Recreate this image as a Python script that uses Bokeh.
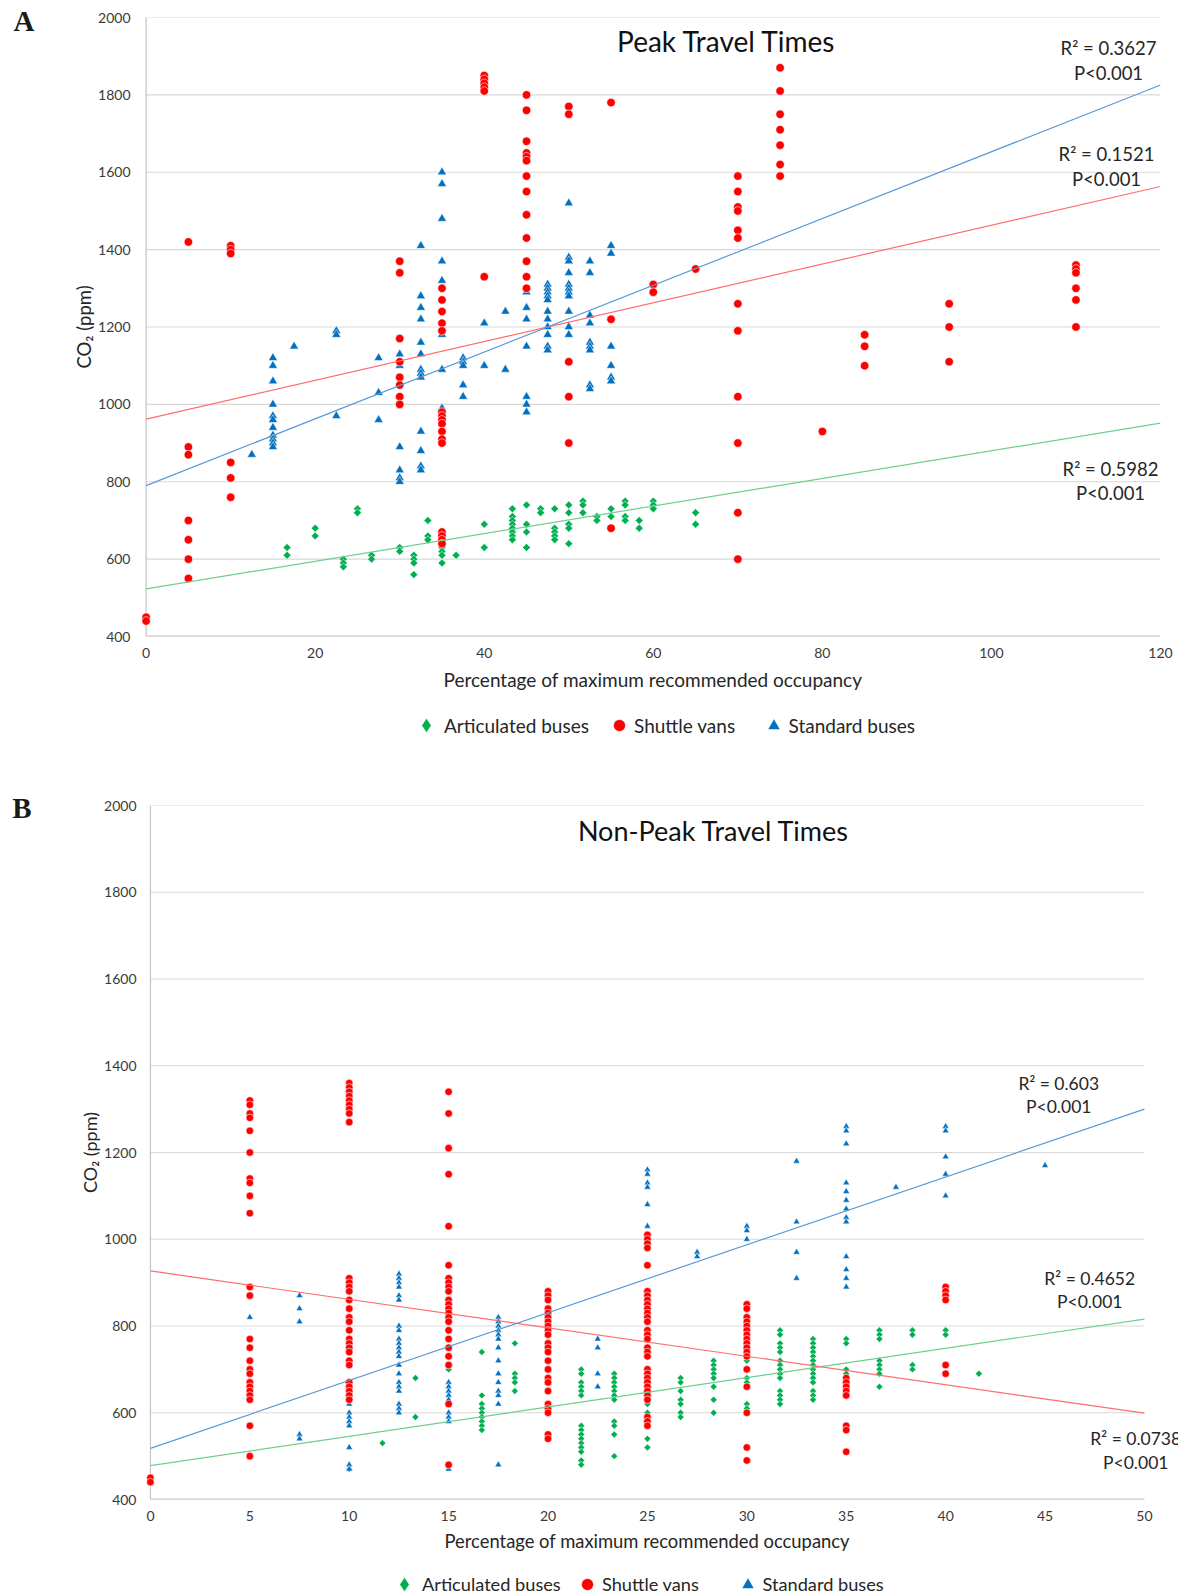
import numpy as np
from bokeh.plotting import figure
from bokeh.models import Range1d, Label, Legend, LegendItem, FixedTicker, Title, LinearAxis
from bokeh.layouts import column, row
from bokeh.embed import file_html
from bokeh.resources import INLINE

# ---------------- data ----------------
SERIES = ["Articulated buses", "Shuttle vans", "Standard buses"]
Y_TICKS = [400, 600, 800, 1000, 1200, 1400, 1600, 1800, 2000]
A_X_TICKS = [0, 20, 40, 60, 80, 100, 120]
B_X_TICKS = [0, 5, 10, 15, 20, 25, 30, 35, 40, 45, 50]
X_LABEL = "Percentage of maximum recommended occupancy"
Y_LABEL = "CO\u2082 (ppm)"

# Panel A - peak travel times: (occupancy %, [CO2 ppm ...])
A_ARTIC = [
    (16.67, [630, 610]), (20, [680, 660]), (23.33, [600, 590, 580]), (25, [730, 720]),
    (26.67, [610, 600]), (30, [630, 620]), (31.67, [610, 600, 590, 560]),
    (33.33, [700, 660, 650]), (35, [630, 620, 610, 590]), (36.67, [610]), (40, [690, 630]),
    (43.33, [730, 710, 700, 690, 680, 670, 660, 650]), (45, [740, 690, 670, 630]),
    (46.67, [730, 720]), (48.33, [730, 680, 670, 660, 650]), (50, [740, 720, 690, 680, 640]),
    (51.67, [750, 740, 720]), (53.33, [710, 700]), (55, [730, 710]),
    (56.67, [750, 740, 710, 700]), (58.33, [700, 680]), (60, [750, 740, 730]), (65, [720, 690]),
]
A_SHUTTLE = [
    (0, [450, 440]), (5, [1420, 890, 870, 700, 650, 600, 550]), (10, [1410, 1400, 1390, 850, 810, 760]),
    (30, [1370, 1340, 1170, 1110, 1070, 1050, 1020, 1000]),
    (35, [1300, 1270, 1240, 1210, 1190, 980, 970, 960, 950, 930, 910, 900, 670, 660, 650, 640]),
    (40, [1850, 1840, 1830, 1820, 1810, 1330]),
    (45, [1800, 1760, 1680, 1650, 1640, 1630, 1590, 1550, 1490, 1430, 1370, 1330, 1300]),
    (50, [1770, 1750, 1110, 1020, 900]), (55, [1780, 1220, 680]), (60, [1310, 1290]), (65, [1350]),
    (70, [1590, 1550, 1510, 1500, 1450, 1430, 1260, 1190, 1020, 900, 720, 600]),
    (75, [1870, 1810, 1750, 1710, 1670, 1620, 1590]), (80, [930]), (85, [1180, 1150, 1100]),
    (95, [1260, 1200, 1110]), (110, [1360, 1350, 1340, 1300, 1270, 1200]),
]
A_STANDARD = [
    (12.5, [870]), (15, [1120, 1100, 1060, 1000, 970, 960, 940, 920, 910, 900, 890]), (17.5, [1150]),
    (22.5, [1190, 1180, 970]), (27.5, [1120, 1030, 960]), (30, [1130, 1100, 890, 830, 810, 800]),
    (32.5, [1410, 1280, 1250, 1220, 1160, 1130, 1090, 1080, 1070, 930, 880, 840, 830]),
    (35, [1600, 1570, 1480, 1370, 1320, 1180, 1090, 990]), (37.5, [1120, 1110, 1100, 1050, 1020]),
    (40, [1210, 1100]), (42.5, [1240, 1090]), (45, [1290, 1250, 1220, 1150, 1020, 1000, 980]),
    (47.5, [1310, 1300, 1290, 1280, 1270, 1240, 1220, 1200, 1180, 1150, 1140]),
    (50, [1520, 1380, 1370, 1340, 1310, 1300, 1290, 1280, 1240, 1200, 1180]),
    (52.5, [1370, 1340, 1230, 1210, 1160, 1150, 1140, 1050, 1040]),
    (55, [1410, 1390, 1150, 1100, 1070, 1060]),
]
A_TREND_INTERCEPT = [523, 962, 790]      # articulated, shuttle, standard
A_TREND_SLOPE = [3.57, 5.01, 8.63]
A_R2 = ["R\u00b2 = 0.5982", "R\u00b2 = 0.1521", "R\u00b2 = 0.3627"]
A_P = ["P<0.001", "P<0.001", "P<0.001"]

# Panel B - non-peak travel times
B_ARTIC = [
    (10, [470]), (11.67, [530]), (13.33, [680, 590]), (15, [700]),
    (16.67, [740, 640, 620, 610, 600, 590, 580, 570, 560]), (18.33, [760, 690, 680, 670, 650]),
    (21.67, [700, 690, 670, 660, 650, 640, 570, 560, 550, 540, 530, 520, 510, 490, 480]),
    (23.33, [690, 680, 670, 660, 650, 640, 630, 580, 570, 550, 500]),
    (25, [690, 680, 660, 650, 620, 600, 540, 520]), (26.67, [680, 670, 650, 630, 620, 600, 590]),
    (28.33, [720, 710, 700, 690, 680, 660, 630, 600]), (30, [720, 680, 670, 620, 610]),
    (31.67, [790, 780, 760, 750, 740, 720, 710, 700, 690, 680, 650, 640, 630, 620]),
    (33.33, [770, 760, 750, 740, 730, 720, 710, 700, 690, 680, 670, 650, 640, 630]),
    (35, [770, 760, 700, 690]), (36.67, [790, 780, 770, 720, 710, 700, 690, 660]),
    (38.33, [790, 780, 710, 700]), (40, [790, 780]), (41.67, [690]),
]
B_SHUTTLE = [
    (0, [450, 440]),
    (5, [1320, 1310, 1290, 1280, 1250, 1200, 1140, 1130, 1100, 1060, 890, 870, 770, 750, 720, 700,
         690, 670, 660, 650, 640, 630, 570, 500]),
    (10, [1360, 1350, 1340, 1330, 1320, 1310, 1300, 1290, 1270, 910, 900, 890, 880, 860, 840, 820,
          810, 790, 770, 760, 750, 740, 720, 710, 670, 660, 650, 640, 630]),
    (15, [1340, 1290, 1210, 1150, 1030, 940, 910, 900, 890, 880, 860, 850, 840, 830, 820, 810, 790,
          770, 750, 730, 710, 620, 480]),
    (20, [880, 870, 860, 840, 830, 820, 810, 800, 790, 780, 760, 750, 740, 720, 700, 680, 670, 650,
          620, 610, 600, 550, 540]),
    (25, [1010, 1000, 990, 980, 940, 880, 870, 860, 850, 840, 830, 820, 810, 790, 780, 770, 750, 740,
          730, 700, 690, 680, 670, 660, 650, 640, 630, 590, 580, 570]),
    (30, [850, 840, 820, 810, 800, 790, 780, 770, 760, 750, 740, 730, 700, 660, 600, 520, 490]),
    (35, [680, 670, 660, 650, 640, 570, 560, 510]),
    (40, [890, 880, 870, 860, 710, 690]),
]
B_STANDARD = [
    (5, [820]), (7.5, [870, 840, 810, 550, 540]), (10, [620, 600, 590, 580, 570, 520, 480, 470]),
    (12.5, [920, 910, 900, 890, 870, 860, 800, 790, 770, 760, 750, 740, 730, 710, 690, 670, 660,
            650, 620, 610, 600]),
    (15, [670, 660, 650, 640, 630, 600, 590, 580, 470]),
    (17.5, [820, 810, 800, 790, 780, 770, 750, 720, 690, 670, 650, 640, 620, 480]),
    (22.5, [770, 750, 690, 660]), (25, [1160, 1150, 1130, 1120, 1080, 1030]), (27.5, [970, 960]),
    (30, [1030, 1020, 1000]), (32.5, [1180, 1040, 970, 910]),
    (35, [1260, 1250, 1220, 1130, 1110, 1090, 1070, 1050, 1040, 960, 930, 910, 890]),
    (37.5, [1120]), (40, [1260, 1250, 1190, 1150, 1100]), (45, [1170]),
]
B_TREND_INTERCEPT = [478, 927, 518]
B_TREND_SLOPE = [6.76, -6.56, 15.64]
B_R2 = ["R\u00b2 = 0.4652", "R\u00b2 = 0.0738", "R\u00b2 = 0.603"]
B_P = ["P<0.001", "P<0.001", "P<0.001"]

# ---------------- styling ----------------
FONT = "Lato"
TXT = "#262626"
TICK_TXT = "#3a3a3a"
GRID = "#d9d9d9"
AXIS = "#c4c4c4"
FILL = ["#00b050", "#ff0000", "#0070c0"]
TREND = ["#6fcf8e", "#ff6e6e", "#5b9bd5"]
MARKERS = ["square", "circle", "triangle"]
ANGLES = [np.pi / 4, 0, 0]
LEG_MARKERS = ["diamond", "circle", "triangle"]
LEG_BOX = [36, 30, 31]          # legend glyph box (marker drawn at 0.4 of it)
WIDTH = 1178


def expand(groups):
    xs, ys = [], []
    for x, vals in groups:
        xs.extend([x] * len(vals))
        ys.extend(vals)
    return xs, ys


def build(c):
    p = figure(frame_width=c["fw"], frame_height=c["fh"],
               x_range=Range1d(c["x0"], c["x0"] + c["fw"] / c["xpx"]), y_range=Range1d(400, 2000),
               output_backend="svg", toolbar_location=None,
               min_border_left=c["bl"], min_border_right=WIDTH - c["bl"] - c["fw"],
               min_border_top=c["bt"], min_border_bottom=c["bb"])
    p.outline_line_color = None
    p.grid.grid_line_color = None
    xmax = c["xticks"][-1]
    n = len(Y_TICKS)
    p.segment(x0=[0] * n, x1=[xmax] * n, y0=Y_TICKS, y1=Y_TICKS, line_color=GRID, line_width=1.2)
    p.segment(x0=[0], x1=[0], y0=[400], y1=[2000], line_color=AXIS, line_width=1.2)
    p.segment(x0=[0], x1=[xmax], y0=[400], y1=[400], line_color=AXIS, line_width=2)

    p.xaxis.ticker = FixedTicker(ticks=c["xticks"])
    p.yaxis.ticker = FixedTicker(ticks=Y_TICKS)
    for ax in (p.xaxis[0], p.yaxis[0]):
        ax.axis_line_color = None
        ax.major_tick_line_color = None
        ax.minor_tick_line_color = None
        ax.major_tick_out = 0
        ax.major_tick_in = 0
        ax.major_label_text_font = FONT
        ax.major_label_text_font_size = c["tick_fs"]
        ax.major_label_text_color = TICK_TXT
        ax.axis_label_text_font = FONT
        ax.axis_label_text_font_style = "normal"
        ax.axis_label_text_color = TXT
        ax.axis_label_text_font_size = c["lab_fs"]
    p.yaxis.axis_label = Y_LABEL
    p.xaxis.major_label_standoff = c["xstand"]
    p.yaxis.major_label_standoff = c["ystand"]
    p.yaxis.axis_label_standoff = c["ylabstand"]

    # panel tag ("A"/"B") carried by an outer, otherwise empty left axis
    tag_ax = LinearAxis(ticker=FixedTicker(ticks=[c["tag_val"]]),
                        major_label_overrides={c["tag_val"]: c["tag"]},
                        axis_line_color=None, major_tick_line_color=None, minor_tick_line_color=None,
                        major_tick_out=0, major_tick_in=0, major_label_standoff=c["tag_stand"],
                        major_label_orientation="horizontal",
                        major_label_text_font="Liberation Serif", major_label_text_font_style="bold",
                        major_label_text_font_size="29px", major_label_text_color="#1a1a1a")
    p.add_layout(tag_ax, "left")

    # x axis label, positioned from the frame's left edge
    p.add_layout(Title(text=X_LABEL, align="left", offset=c["xlab_off"], standoff=c["xlab_stand"],
                       vertical_align="top",
                       text_font=FONT, text_font_style="normal", text_font_size=c["xlab_fs"],
                       text_color=TXT), "below")

    gx, gy = expand(c["artic"])
    sx, sy = expand(c["shuttle"])
    bx, by = expand(c["standard"])
    sizes = c["msz"]
    p.scatter(gx, gy, marker=MARKERS[0], angle=ANGLES[0], size=sizes[0],
              fill_color=FILL[0], line_color="white", line_width=0.5)
    p.scatter(bx, by, marker=MARKERS[2], size=sizes[2],
              fill_color=FILL[2], line_color="white", line_width=0.5)
    p.scatter(sx, sy, marker=MARKERS[1], size=sizes[1],
              fill_color=FILL[1], line_color="white", line_width=0.6)

    for i in range(3):
        a, b = c["icpt"][i], c["slope"][i]
        p.line([0, xmax], [a, a + b * xmax], line_color=TREND[i], line_width=1.2)

    # text positions given in page pixels of the reference, mapped into data units
    def dx(px):
        return (px - c["x0px"]) / c["xpx"]

    def dy(py):
        return 2000 - (py - c["y0px"]) / c["ypx"]

    p.add_layout(Label(x=dx(c["title_pos"][0]), y=dy(c["title_pos"][1]), text=c["title"],
                       text_font=FONT, text_font_size=c["title_fs"], text_color="#111111",
                       text_align="center", text_baseline="middle"))
    for i in range(3):
        px, py1, py2 = c["r2_pos"][i]
        p.add_layout(Label(x=dx(px), y=dy(py1), text=c["r2"][i], text_font=FONT,
                           text_font_size=c["r2_fs"], text_color=TXT,
                           text_align="center", text_baseline="middle"))
        p.add_layout(Label(x=dx(px), y=dy(py2), text=c["p"][i], text_font=FONT,
                           text_font_size=c["r2_fs"], text_color=TXT,
                           text_align="center", text_baseline="middle"))
    return p


def legend_strip(c):
    h = c["strip_h"]
    s = figure(frame_width=WIDTH, frame_height=h, x_range=Range1d(0, 1), y_range=Range1d(0, 1),
               output_backend="svg", toolbar_location=None,
               x_axis_location=None, y_axis_location=None, min_border=0)
    s.outline_line_color = None
    s.grid.visible = False
    for i in range(3):
        # a single swatch point placed outside the visible range: only its legend entry shows
        r = s.scatter(x=[5], y=[5], marker=LEG_MARKERS[i], size=12,
                      fill_color=FILL[i], line_color="white", line_width=0.6)
        box = LEG_BOX[i]
        cx = c["leg_cx"][i]
        lg = Legend(items=[LegendItem(label=SERIES[i], renderers=[r])],
                    orientation="horizontal",
                    location=(cx - box / 2, c["leg_cy"] - box / 2),
                    glyph_width=box, glyph_height=box, label_standoff=0,
                    padding=0, margin=0, border_line_color=None, background_fill_alpha=0,
                    label_text_font=FONT, label_text_font_size=c["leg_fs"], label_text_color=TXT)
        s.add_layout(lg)
    return s


cfgA = dict(fw=1024, fh=619, x0=-1.14, xticks=A_X_TICKS, bl=136, bt=17, bb=70,
            tick_fs="14px", lab_fs="18.5px", xstand=11, ystand=6, ylabstand=0,
            tag="A", tag_val=1992, tag_stand=36,
            xlab_fs="19px", xlab_off=307, xlab_stand=14,
            artic=A_ARTIC, shuttle=A_SHUTTLE, standard=A_STANDARD,
            icpt=A_TREND_INTERCEPT, slope=A_TREND_SLOPE, r2=A_R2, p=A_P,
            msz=[5.6, 8.5, 9],
            x0px=145.6, xpx=8.453, y0px=17.3, ypx=0.387,
            title="Peak Travel Times", title_pos=(726, 41), title_fs="28px",
            r2_pos=[(1110, 469.3, 493.3), (1106, 154, 179), (1108, 48.3, 72.7)], r2_fs="18.5px",
            strip_h=44, leg_cx=[426, 619, 773], leg_cy=25, leg_fs="19px")

cfgB = dict(fw=1038, fh=694, x0=-0.5, xticks=B_X_TICKS, bl=140, bt=55, bb=66,
            tick_fs="14px", lab_fs="18px", xstand=11, ystand=4, ylabstand=0,
            tag="B", tag_val=1995, tag_stand=45,
            xlab_fs="18.4px", xlab_off=304, xlab_stand=12,
            artic=B_ARTIC, shuttle=B_SHUTTLE, standard=B_STANDARD,
            icpt=B_TREND_INTERCEPT, slope=B_TREND_SLOPE, r2=B_R2, p=B_P,
            msz=[4.9, 7.6, 6.8],
            x0px=149.7, xpx=19.88, y0px=804.5, ypx=0.434,
            title="Non-Peak Travel Times", title_pos=(713, 830), title_fs="27px",
            r2_pos=[(1089, 1277.3, 1300.7), (1135, 1438.3, 1461.7), (1058, 1082.3, 1106)], r2_fs="17.5px",
            strip_h=31, leg_cx=[404, 587, 747], leg_cy=12, leg_fs="18.2px")

pA = build(cfgA)
sA = legend_strip(cfgA)
pB = build(cfgB)
sB = legend_strip(cfgB)
layout = column(row(pA), row(sA), row(pB), row(sB), spacing=0)
open("out.html", "w").write(file_html(layout, INLINE))
